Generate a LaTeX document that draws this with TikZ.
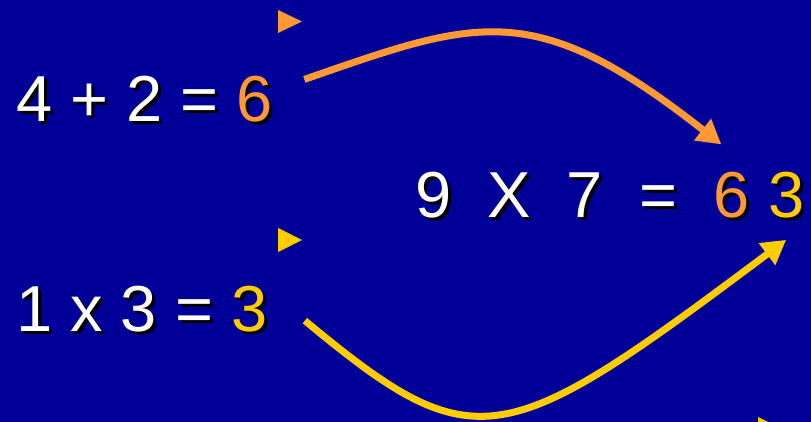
\documentclass[tikz,border=0pt]{standalone}
\usepackage{fontspec}
\setmainfont{Liberation Sans}
\usepackage{tikz}
\usetikzlibrary{arrows.meta, positioning, calc}
\definecolor{bgblue}{HTML}{000099}
\definecolor{orangeA}{HTML}{FF9933}
\definecolor{yellowA}{HTML}{FFCC00}

\begin{document}
\begin{tikzpicture}[
    x=1pt, y=-1pt,
    eqtext/.style={inner sep=0pt, font=\fontsize{65}{78}\selectfont, text=white},
    txtshadow/.style={eqtext, text=black, xshift=3pt, yshift=-3pt},
    arrow/.style={-{Triangle[length=24pt, width=26pt]}, line width=7pt},
    bullet/.style={fill=#1}
]
    % Background
    \useasboundingbox (0,0) rectangle (811,422);
    \fill[bgblue] (0,0) rectangle (811,422);

    % Bullets
    \fill[bullet=orangeA] (278,10) -- (302,21.5) -- (278,33) -- cycle;
    \fill[bullet=yellowA] (278,228) -- (302,240) -- (278,252) -- cycle;
    \fill[bullet=yellowA] (758,417) -- (782,429) -- (758,441) -- cycle;

    % First sum
    \node[txtshadow, anchor=base west] (lhsA-sh) at (16,122) {4 + 2 =};
    \node[eqtext, anchor=base west] (lhsA) at (16,122) {4 + 2 =};
    \node[txtshadow, base right=18pt of lhsA] (resA-sh) {6};
    \node[eqtext, text=orangeA, base right=18pt of lhsA] (resA) {6};

    % Second product
    \node[txtshadow, anchor=base west] (lhsB-sh) at (16,331) {1 x 3 =};
    \node[eqtext, anchor=base west] (lhsB) at (16,331) {1 x 3 =};
    \node[txtshadow, base right=18pt of lhsB] (resB-sh) {3};
    \node[eqtext, text=yellowA, base right=18pt of lhsB] (resB) {3};

    % Result
    \node[txtshadow, anchor=base west] (lhsC-sh) at (415,218) {9~~X~~7~~=};
    \node[eqtext, anchor=base west] (lhsC) at (415,218) {9~~X~~7~~=};
    \node[txtshadow, base right=36pt of lhsC] (tens-sh) {6};
    \node[eqtext, text=orangeA, base right=36pt of lhsC] (tens) {6};
    \node[txtshadow, base right=18pt of tens] (ones-sh) {3};
    \node[eqtext, text=yellowA, base right=18pt of tens] (ones) {3};

    % Arrow ends
    \coordinate (fromA) at ($(resA.north east)+(31,3)$);
    \coordinate (toA) at ($(tens.north west)+(8,-28)$);
    \coordinate (fromB) at ($(resB.east)+(37,12)$);
    \coordinate (toB) at ($(ones.south)+(0,21)$);

    % Arrows
    \draw[arrow, orangeA] (fromA) .. controls +(173,-60) and +(-188,-148) .. (toA);
    \draw[arrow, yellowA] (fromB) .. controls +(171,142) and +(-283,212) .. (toB);

\end{tikzpicture}
\end{document}
